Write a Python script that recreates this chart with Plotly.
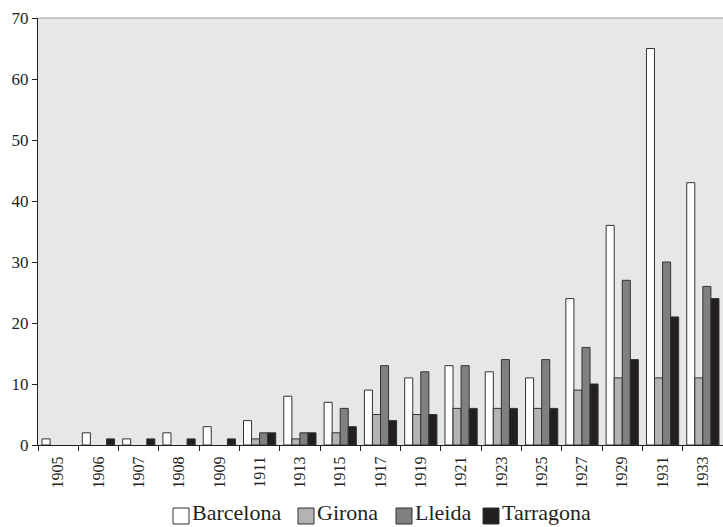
import plotly.graph_objects as go

years = ["1905", "1906", "1907", "1908", "1909", "1911", "1913", "1915", "1917",
         "1919", "1921", "1923", "1925", "1927", "1929", "1931", "1933"]
barcelona = [1, 2, 1, 2, 3, 4, 8, 7, 9, 11, 13, 12, 11, 24, 36, 65, 43]
girona =    [0, 0, 0, 0, 0, 1, 1, 2, 5, 5, 6, 6, 6, 9, 11, 11, 11]
lleida =    [0, 0, 0, 0, 0, 2, 2, 6, 13, 12, 13, 14, 14, 16, 27, 30, 26]
tarragona = [0, 1, 1, 1, 1, 2, 2, 3, 4, 5, 6, 6, 6, 10, 14, 21, 24]

names = ["Barcelona", "Girona", "Lleida", "Tarragona"]
colors = ["#ffffff", "#b3b3b5", "#808083", "#231f20"]
values = [barcelona, girona, lleida, tarragona]

W, H = 723, 527
ML, MR, MT, MB = 38, 0, 18, 82
PW, PH = W - ML - MR, H - MT - MB

def px_x(x):
    return (x - ML) / PW

def px_y(y):
    return (H - MB - y) / PH

font_family = "Liberation Serif, DejaVu Serif, serif"
ink = "#231f20"

fig = go.Figure()
for name, vals, col in zip(names, values, colors):
    fig.add_trace(go.Bar(
        x=years, y=[v if v else None for v in vals], name=name,
        marker=dict(color=col, line=dict(color="#333333", width=1)),
    ))

# custom compact legend (bottom centre)
legend_left = [173, 298, 396, 483]
shapes = [dict(type="line", xref="paper", yref="paper", x0=0, x1=1, y0=1, y1=1,
               line=dict(color="#9a9a9a", width=1))]
annotations = []
for name, col, lx in zip(names, colors, legend_left):
    shapes.append(dict(type="rect", xref="paper", yref="paper",
                       x0=px_x(lx), x1=px_x(lx + 16), y0=px_y(508), y1=px_y(524),
                       fillcolor=col, line=dict(color="#333333", width=1)))
    annotations.append(dict(xref="paper", yref="paper", x=px_x(lx + 18), y=px_y(526),
                            xanchor="left", yanchor="bottom", showarrow=False,
                            borderpad=0,
                            text=name, font=dict(size=22, family=font_family, color=ink)))

fig.update_layout(
    width=W, height=H,
    margin=dict(l=ML, r=MR, t=MT, b=MB, autoexpand=False),
    paper_bgcolor="white",
    plot_bgcolor="#e6e7e9",
    barmode="group",
    bargap=0.2,
    bargroupgap=0,
    font=dict(family=font_family, color=ink, size=16),
    showlegend=False,
    shapes=shapes,
    annotations=annotations,
)
fig.update_xaxes(
    type="category",
    tickangle=-90,
    tickson="boundaries",
    ticks="outside", ticklen=5, tickcolor=ink,
    showline=True, linecolor=ink, linewidth=1,
    showgrid=False,
    tickfont=dict(size=16),
    ticklabelstandoff=4,
)
fig.update_yaxes(
    range=[0, 70], dtick=10,
    ticks="outside", ticklen=5, tickcolor=ink,
    showline=True, linecolor=ink, linewidth=1,
    showgrid=False, zeroline=False,
    tickfont=dict(size=17),
)

fig.write_html("out.html", config={"displayModeBar": False},
               post_script="document.body.style.margin='0px';")
